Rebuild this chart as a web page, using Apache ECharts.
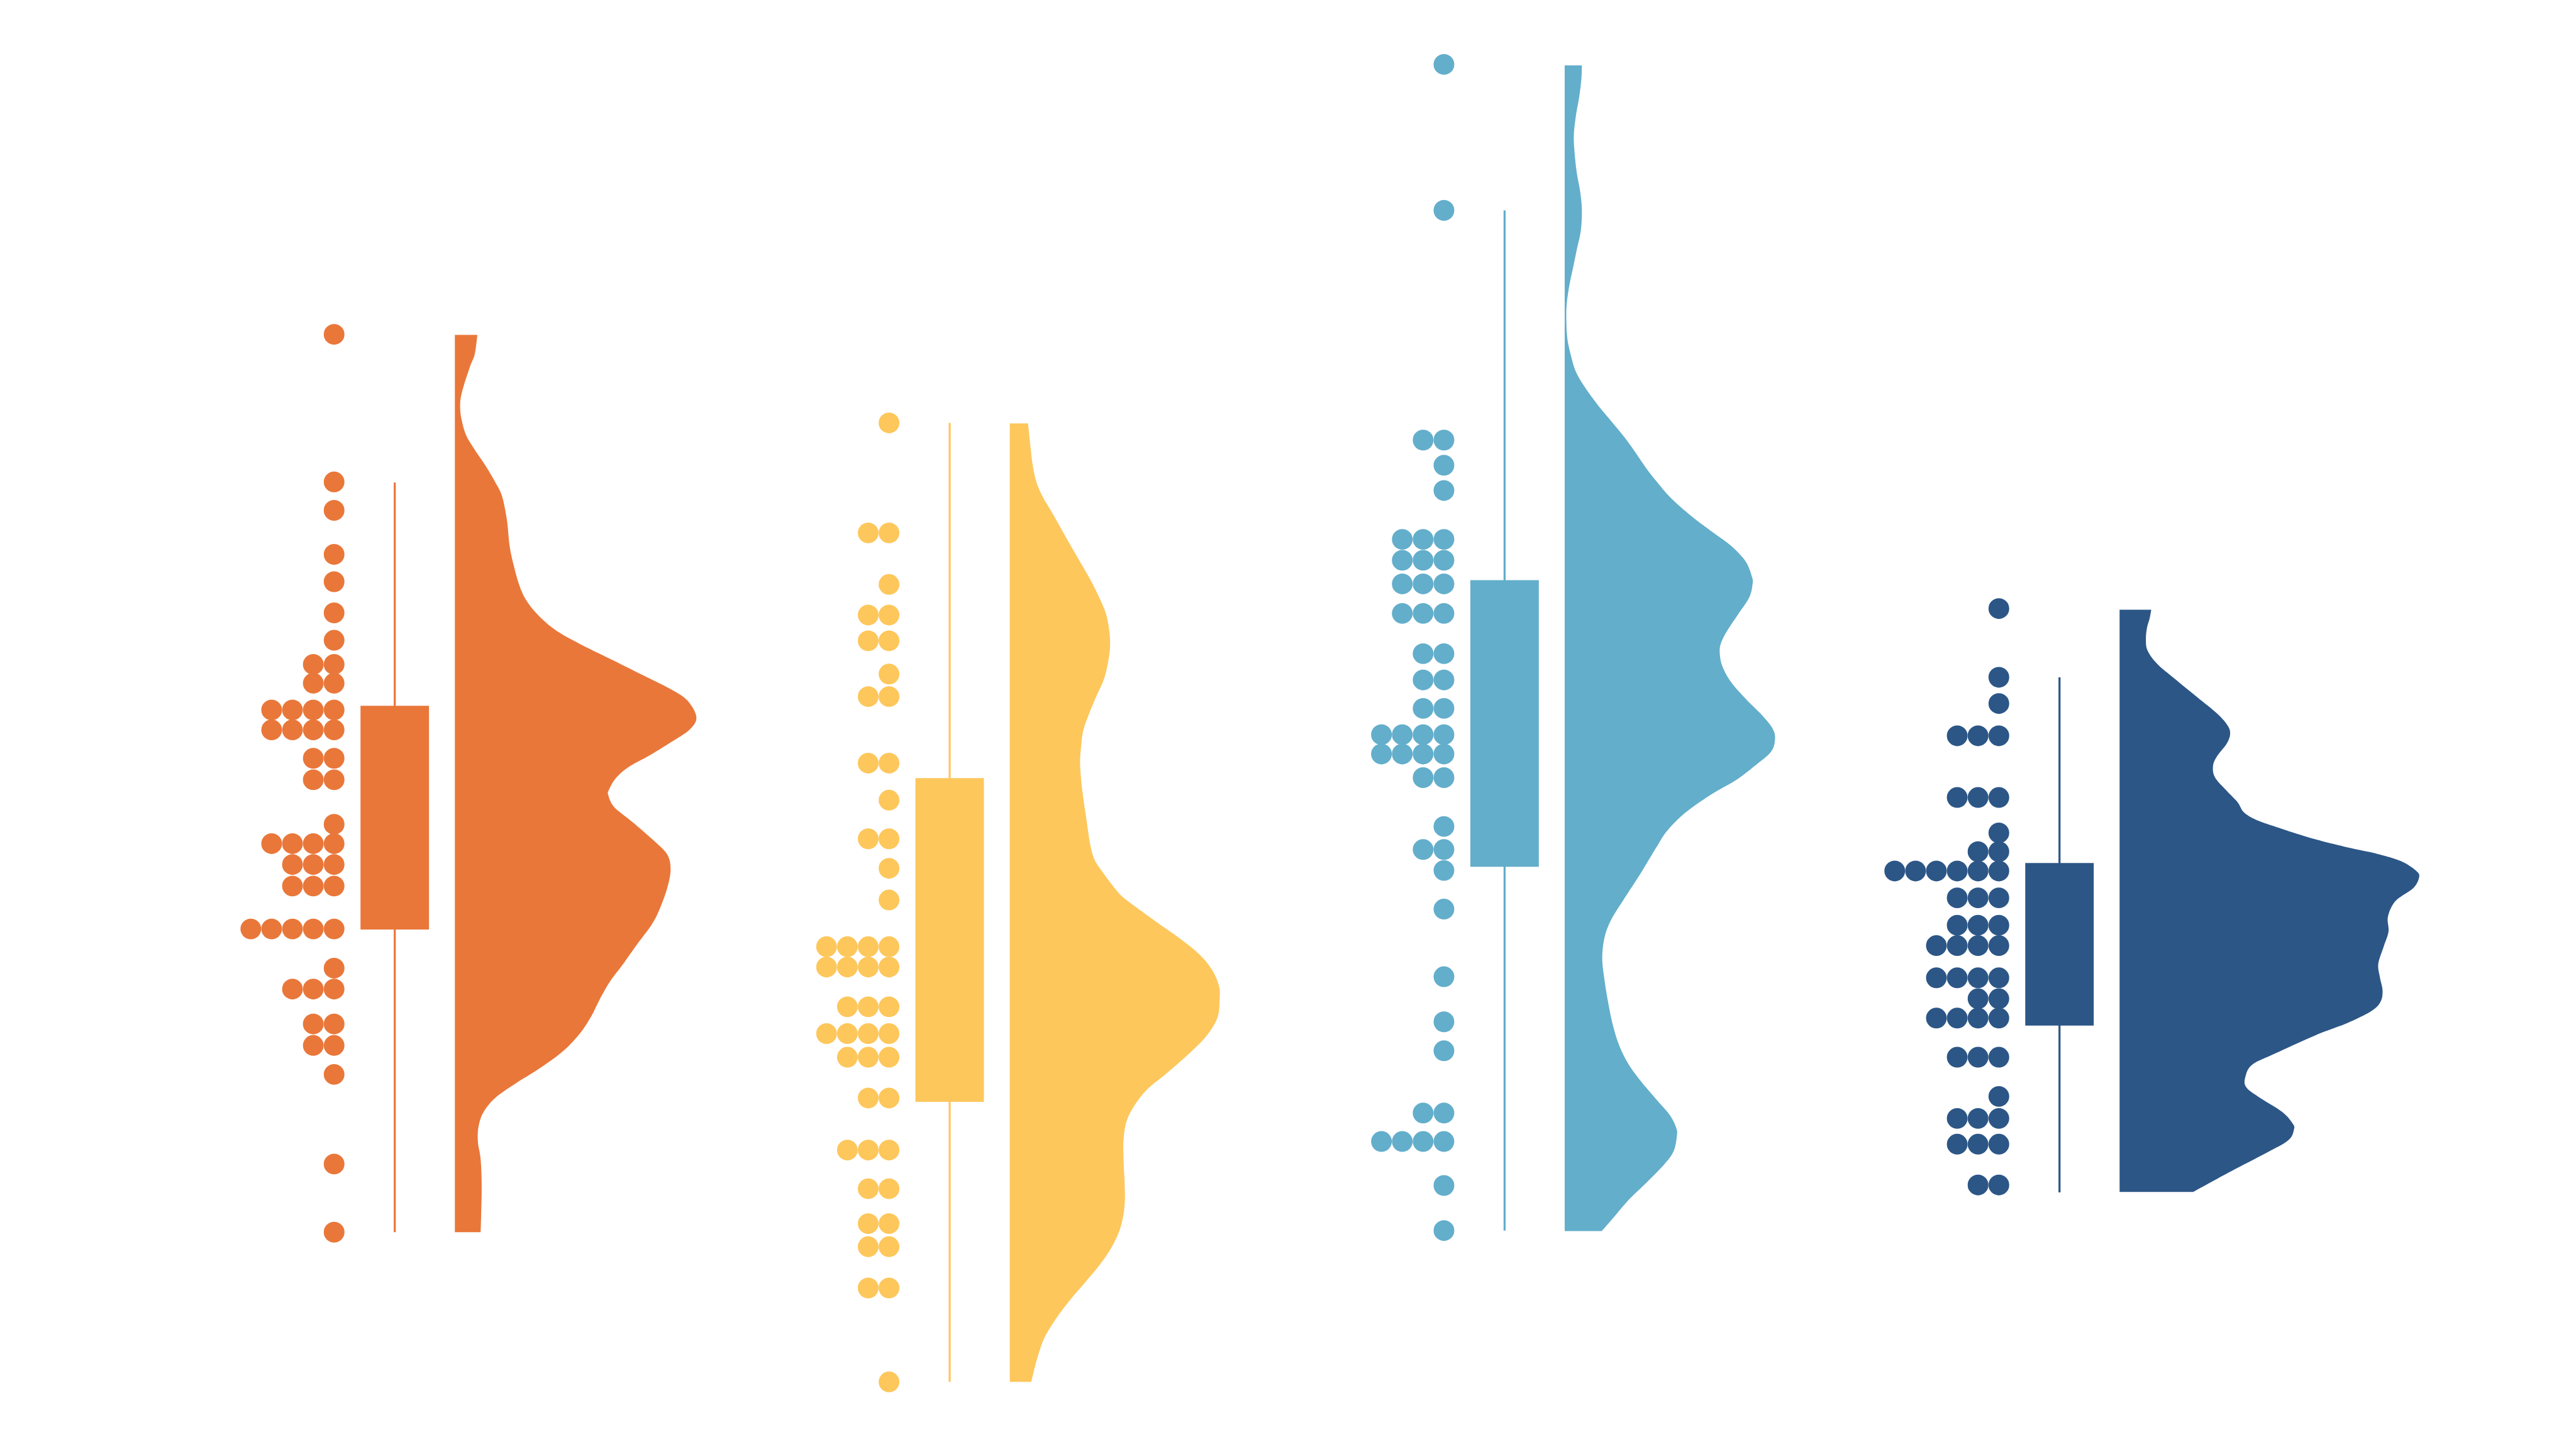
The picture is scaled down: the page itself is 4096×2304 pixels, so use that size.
<!DOCTYPE html>
<html><head><meta charset="utf-8">
<script src="https://cdn.jsdelivr.net/npm/echarts@6/dist/echarts.min.js"></script>
<style>html,body{margin:0;padding:0;background:#fff}#c{width:4096px;height:2304px}</style>
</head><body><div id="c"></div>
<script>
// ---- data ----
const categories = ['Group A', 'Group B', 'Group C', 'Group D'];
const colors = ['#E9773A', '#FDC75C', '#63AECB', '#2C5686'];

const valuesA = [207.7, 180.2, 174.9, 166.7, 161.6, 155.8, 150.7, 146.2, 146.2, 142.7, 142.7,
  137.7, 137.7, 137.7, 137.7, 134.0, 134.0, 134.0, 134.0, 128.7, 128.7, 124.7, 124.7, 116.4,
  112.8, 112.8, 112.8, 112.8, 108.9, 108.9, 108.9, 104.9, 104.9, 104.9, 96.9, 96.9, 96.9, 96.9, 96.9,
  89.6, 85.7, 85.7, 85.7, 79.2, 79.2, 75.2, 75.2, 69.8, 53.1, 40.4];
const valuesB = [191.2, 170.7, 170.7, 161.1, 155.4, 155.4, 150.6, 150.6, 144.4, 140.2, 140.2,
  127.8, 127.8, 120.9, 113.7, 113.7, 108.2, 102.3, 93.6, 93.6, 93.6, 93.6, 89.8, 89.8, 89.8, 89.8,
  82.4, 82.4, 82.4, 77.4, 77.4, 77.4, 77.4, 73.0, 73.0, 73.0, 65.4, 65.4, 55.7, 55.7, 55.7,
  48.5, 48.5, 42.0, 42.0, 37.7, 37.7, 30.0, 30.0, 12.5];
const valuesC = [258.0, 230.8, 188.0, 188.0, 183.3, 178.6, 169.5, 169.5, 169.5, 165.6, 165.6, 165.6,
  161.2, 161.2, 161.2, 155.7, 155.7, 155.7, 148.2, 148.2, 143.3, 143.3, 138.0, 138.0,
  133.1, 133.1, 133.1, 133.1, 129.5, 129.5, 129.5, 129.5, 125.1, 125.1, 116.0, 111.7, 111.7, 107.8,
  100.6, 88.0, 79.6, 74.2, 62.6, 62.6, 57.3, 57.3, 57.3, 57.3, 49.1, 40.7];
const valuesD = [156.6, 143.8, 138.9, 132.9, 132.9, 132.9, 121.4, 121.4, 121.4, 114.8, 111.3, 111.3,
  107.7, 107.7, 107.7, 107.7, 107.7, 107.7, 102.7, 102.7, 102.7, 97.6, 97.6, 97.6,
  93.8, 93.8, 93.8, 93.8, 87.8, 87.8, 87.8, 87.8, 83.9, 83.9, 80.3, 80.3, 80.3, 80.3,
  73.0, 73.0, 73.0, 65.7, 61.6, 61.6, 61.6, 56.8, 56.8, 56.8, 49.2, 49.2];

// box stats: [lower whisker, Q1, Q3, upper whisker]
const boxA = [40.4, 96.8, 138.5, 180.1];
const boxB = [12.5, 64.7, 125.0, 191.2];
const boxC = [40.7, 108.5, 161.9, 230.8];
const boxD = [47.8, 78.9, 109.2, 143.8];

// half-violin density outline: value levels and density
const violinValA = [207.6, 204.0, 201.9, 198.6, 195.9, 193.7, 191.6, 188.9, 186.2, 183.4, 180.2, 177.5,
  173.1, 168.3, 164.5, 160.7, 158.0, 155.3, 152.5, 149.8, 147.1, 144.4, 141.7, 139.5, 136.4, 134.1,
  131.9, 129.2, 127.1, 125.0, 122.8, 121.8, 119.6, 116.9, 113.6, 110.9, 108.2, 105.0, 101.2, 97.9,
  94.1, 90.3, 87.1, 83.8, 80.6, 77.3, 74.0, 70.8, 68.1, 65.4, 62.7, 60.0, 57.2, 54.0, 49.1, 43.7, 40.4];
const violinDenA = [0.42, 0.37, 0.29, 0.18, 0.11, 0.10, 0.13, 0.21, 0.37, 0.56, 0.75, 0.88,
  0.97, 1.02, 1.10, 1.21, 1.34, 1.56, 1.89, 2.37, 2.92, 3.46, 4.00, 4.33, 4.50, 4.38,
  4.06, 3.62, 3.24, 3.00, 2.87, 2.86, 2.97, 3.30, 3.68, 3.95, 4.02, 3.97, 3.84, 3.68,
  3.40, 3.13, 2.89, 2.70, 2.54, 2.32, 2.00, 1.56, 1.13, 0.75, 0.53, 0.44, 0.43, 0.48, 0.50, 0.49, 0.48];
const violinValB = [191.1, 187.3, 183.8, 180.4, 177.5, 174.1, 170.0, 166.0, 162.0, 158.6, 155.7, 152.8,
  150.0, 147.1, 143.6, 140.2, 136.8, 133.9, 131.0, 128.1, 124.7, 121.3, 117.2, 112.6, 109.8, 107.5,
  105.2, 103.0, 100.7, 97.8, 94.9, 92.0, 89.1, 86.2, 83.9, 80.4, 76.9, 73.4, 69.9, 67.0, 64.1, 61.2,
  57.7, 53.7, 49.6, 45.5, 41.5, 38.0, 34.5, 31.0, 27.6, 24.1, 20.6, 16.5, 12.5];
const violinDenB = [0.34, 0.38, 0.42, 0.49, 0.61, 0.81, 1.04, 1.27, 1.50, 1.67, 1.79, 1.85,
  1.87, 1.84, 1.76, 1.61, 1.47, 1.37, 1.33, 1.31, 1.33, 1.37, 1.43, 1.50, 1.58, 1.73,
  1.90, 2.09, 2.39, 2.79, 3.20, 3.55, 3.78, 3.90, 3.91, 3.87, 3.66, 3.31, 2.91, 2.56, 2.33, 2.18,
  2.12, 2.12, 2.14, 2.14, 2.07, 1.92, 1.69, 1.40, 1.11, 0.85, 0.64, 0.50, 0.40];
const violinValC = [257.8, 255.2, 251.9, 248.5, 244.7, 240.9, 237.5, 234.2, 230.8, 227.0,
  223.7, 220.3, 217.0, 213.6, 210.7, 206.9, 203.6, 200.7, 197.8, 194.5,
  191.6, 188.7, 186.1, 182.6, 180.2, 177.4, 174.0, 171.1, 168.3, 165.4,
  162.5, 161.1, 158.7, 155.8, 152.5, 150.1, 148.2, 145.8, 142.9, 139.6,
  136.7, 134.3, 132.4, 130.0, 127.6, 124.7, 121.9, 118.5, 115.2, 112.3,
  110.0, 106.7, 102.4, 98.5, 95.2, 91.4, 87.5, 83.2, 78.9, 75.1,
  71.7, 68.4, 65.0, 62.2, 59.8, 58.3, 55.5, 53.1, 49.7, 46.4, 43.0, 40.6];
const violinDenC = [0.32, 0.31, 0.27, 0.21, 0.17, 0.19, 0.23, 0.29, 0.32, 0.30,
  0.23, 0.16, 0.09, 0.04, 0.03, 0.05, 0.12, 0.21, 0.38, 0.62,
  0.86, 1.10, 1.29, 1.53, 1.72, 1.96, 2.34, 2.72, 3.10, 3.37,
  3.49, 3.50, 3.44, 3.25, 3.03, 2.91, 2.89, 2.94, 3.10, 3.39,
  3.68, 3.87, 3.92, 3.85, 3.58, 3.20, 2.72, 2.24, 1.91, 1.72,
  1.58, 1.38, 1.10, 0.86, 0.74, 0.70, 0.74, 0.81, 0.90, 1.02,
  1.19, 1.43, 1.72, 1.96, 2.08, 2.09, 2.03, 1.86, 1.53, 1.19, 0.90, 0.69];
const violinValD = [156.4, 154.8, 153.0, 150.9, 148.8, 146.3, 143.5, 140.3, 137.1, 135.0,
  133.4, 131.5, 129.0, 127.2, 125.1, 122.6, 120.5, 118.7, 117.3, 115.9,
  113.8, 112.1, 110.9, 109.5, 107.7, 106.5, 104.5, 102.1, 99.2, 96.4,
  93.6, 90.4, 87.9, 85.4, 83.3, 81.6, 79.4, 77.3, 73.8, 71.6,
  69.2, 67.4, 65.6, 62.8, 60.7, 59.6, 57.5, 55.0, 51.5, 47.9];
const violinDenD = [0.59, 0.56, 0.51, 0.49, 0.52, 0.70, 1.03, 1.42, 1.81, 2.00,
  2.06, 2.00, 1.81, 1.74, 1.78, 2.00, 2.20, 2.31, 2.53, 2.92,
  3.58, 4.25, 4.80, 5.25, 5.53, 5.58, 5.47, 5.14, 5.00, 5.01,
  4.92, 4.82, 4.85, 4.90, 4.86, 4.69, 4.25, 3.70, 2.92, 2.47,
  2.34, 2.36, 2.59, 3.03, 3.22, 3.25, 3.14, 2.70, 2.03, 1.37];

// ---- layout ----
const S = 4096 / 4800;
const BOX_W = 127.6 * S;
const WHISK_W = 3.8 * S;
const DOT_R = 19.3 * S;
const DOT_X0 = -113 * S;
const DOT_STEP = 38.8 * S;
const VIOLIN_X0 = 112 * S;
const DENS_PX = 100 * S;

const groups = [
  { vals: valuesA, box: boxA, vv: violinValA, vd: violinDenA },
  { vals: valuesB, box: boxB, vv: violinValB, vd: violinDenB },
  { vals: valuesC, box: boxC, vv: violinValC, vd: violinDenC },
  { vals: valuesD, box: boxD, vv: violinValD, vd: violinDenD }
];

// Catmull-Rom smoothing of the outline for drawing
function spline(pts, n) {
  const out = [];
  const L = pts.length;
  for (let i = 0; i < L - 1; i++) {
    const p0 = pts[Math.max(i - 1, 0)], p1 = pts[i], p2 = pts[i + 1], p3 = pts[Math.min(i + 2, L - 1)];
    for (let k = 0; k < n; k++) {
      const t = k / n, t2 = t * t, t3 = t2 * t;
      const f = (a, b, c, d) => 0.5 * (2 * b + (-a + c) * t + (2 * a - 5 * b + 4 * c - d) * t2 + (-a + 3 * b - 3 * c + d) * t3);
      out.push([f(p0[0], p1[0], p2[0], p3[0]), f(p0[1], p1[1], p2[1], p3[1])]);
    }
  }
  out.push(pts[L - 1]);
  return out;
}

const series = [];
groups.forEach((G, g) => {
  const color = colors[g];
  const counts = {};
  const dotData = G.vals.map(v => {
    const k = String(v);
    counts[k] = (counts[k] || 0);
    const col = counts[k]++;
    return [g, v, col];
  });
  series.push({
    type: 'custom', name: categories[g] + ' dots', coordinateSystem: 'cartesian2d',
    data: dotData, encode: { x: 0, y: 1 },
    renderItem: (params, api) => {
      const c = api.coord([api.value(0), api.value(1)]);
      return { type: 'circle', shape: { cx: c[0] + DOT_X0 - api.value(2) * DOT_STEP, cy: c[1], r: DOT_R }, style: { fill: color } };
    }
  });
  series.push({
    type: 'custom', name: categories[g] + ' box', coordinateSystem: 'cartesian2d',
    data: [[g].concat(G.box)], encode: { x: 0, y: [1, 2, 3, 4] },
    renderItem: (params, api) => {
      const lo = api.coord([api.value(0), api.value(1)]);
      const q1 = api.coord([api.value(0), api.value(2)]);
      const q3 = api.coord([api.value(0), api.value(3)]);
      const hi = api.coord([api.value(0), api.value(4)]);
      return {
        type: 'group', children: [
          { type: 'rect', shape: { x: lo[0] - WHISK_W / 2, y: hi[1], width: WHISK_W, height: lo[1] - hi[1] }, style: { fill: color } },
          { type: 'rect', shape: { x: q3[0] - BOX_W / 2, y: q3[1], width: BOX_W, height: q1[1] - q3[1] }, style: { fill: color } }
        ]
      };
    }
  });
  series.push({
    type: 'custom', name: categories[g] + ' density', coordinateSystem: 'cartesian2d',
    data: [[g, G.vv[0]]], encode: { x: 0, y: 1 },
    renderItem: (params, api) => {
      const bx = api.coord([g, 0])[0] + VIOLIN_X0;
      const pts = G.vv.map((v, i) => [bx + G.vd[i] * DENS_PX, api.coord([g, v])[1]]);
      const curve = spline(pts, 10).map(p => [Math.max(p[0], bx + 0.5), p[1]]);
      const poly = [[bx, pts[0][1]]].concat(curve, [[bx, pts[pts.length - 1][1]]]);
      return { type: 'polygon', shape: { points: poly }, style: { fill: color } };
    }
  });
});

const chart = echarts.init(document.getElementById('c'), null, { renderer: 'canvas' });
chart.setOption({
  animation: false,
  backgroundColor: '#ffffff',
  grid: { left: 186.5, right: 380.1, top: 0, bottom: 0 },
  xAxis: { type: 'category', data: categories, show: false, boundaryGap: true },
  yAxis: { type: 'value', min: 0, max: 270, show: false },
  series: series
});
</script></body></html>
